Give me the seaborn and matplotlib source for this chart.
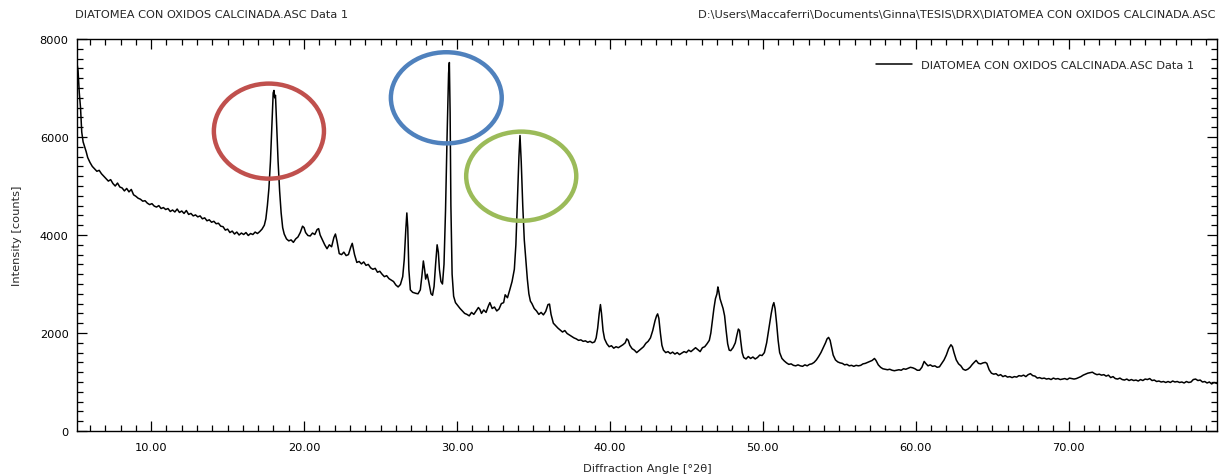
import matplotlib
matplotlib.use("Agg")
import matplotlib.pyplot as plt
from matplotlib.patches import Ellipse
from matplotlib.ticker import MultipleLocator, FormatStrFormatter
import seaborn as sns
import pandas as pd

# XRD pattern: diffraction angle (deg 2-theta) and intensity (counts)
angle = [
    5.15, 5.22, 5.30, 5.38, 5.46, 5.55, 5.65, 5.75, 5.85, 6.0, 6.15, 6.3, 6.45, 6.6, 6.75, 6.9,
    7.05, 7.2, 7.35, 7.5, 7.65, 7.8, 7.95, 8.1, 8.25, 8.4, 8.55, 8.7, 8.85, 9.0, 9.15, 9.3, 9.45,
    9.6, 9.75, 9.9, 10.05, 10.2, 10.35, 10.5, 10.65, 10.8, 10.95, 11.1, 11.25, 11.4, 11.55, 11.7,
    11.85, 12.0, 12.15, 12.3, 12.45, 12.6, 12.75, 12.9, 13.05, 13.2, 13.35, 13.5, 13.65, 13.8,
    13.95, 14.1, 14.25, 14.4, 14.55, 14.7, 14.85, 15.0, 15.15, 15.3, 15.45, 15.6, 15.75, 15.9,
    16.05, 16.2, 16.35, 16.5, 16.65, 16.8, 16.95, 17.1, 17.25, 17.4, 17.5, 17.6, 17.7, 17.8,
    17.9, 17.98, 18.03, 18.08, 18.13, 18.2, 18.3, 18.4, 18.5, 18.6, 18.7, 18.85, 19.0, 19.15,
    19.3, 19.45, 19.6, 19.75, 19.9, 20.0, 20.1, 20.25, 20.4, 20.55, 20.7, 20.85, 20.95, 21.05,
    21.2, 21.35, 21.5, 21.65, 21.8, 21.95, 22.05, 22.15, 22.3, 22.45, 22.6, 22.75, 22.9, 23.05,
    23.15, 23.3, 23.45, 23.6, 23.75, 23.9, 24.05, 24.2, 24.35, 24.5, 24.65, 24.8, 24.95, 25.1,
    25.25, 25.4, 25.55, 25.7, 25.85, 26.0, 26.15, 26.3, 26.45, 26.55, 26.65, 26.72, 26.78, 26.85,
    26.95, 27.1, 27.3, 27.45, 27.6, 27.7, 27.8, 27.88, 27.95, 28.05, 28.15, 28.3, 28.4, 28.5,
    28.6, 28.7, 28.78, 28.85, 28.95, 29.05, 29.15, 29.25, 29.35, 29.45, 29.5, 29.55, 29.6, 29.68,
    29.78, 29.9, 30.05, 30.2, 30.35, 30.5, 30.65, 30.8, 30.95, 31.1, 31.25, 31.4, 31.5, 31.6,
    31.75, 31.9, 32.05, 32.15, 32.3, 32.45, 32.6, 32.75, 32.9, 33.05, 33.15, 33.3, 33.45, 33.6,
    33.75, 33.85, 33.95, 34.05, 34.12, 34.2, 34.3, 34.4, 34.5, 34.6, 34.7, 34.8, 34.9, 35.05,
    35.2, 35.35, 35.5, 35.65, 35.8, 35.95, 36.05, 36.15, 36.3, 36.45, 36.6, 36.75, 36.9, 37.05,
    37.2, 37.35, 37.5, 37.65, 37.8, 37.95, 38.1, 38.25, 38.4, 38.55, 38.7, 38.85, 39.0, 39.1,
    39.2, 39.3, 39.38, 39.45, 39.55, 39.65, 39.8, 39.95, 40.1, 40.25, 40.4, 40.55, 40.7, 40.85,
    41.0, 41.1, 41.2, 41.3, 41.45, 41.6, 41.75, 41.9, 42.05, 42.2, 42.35, 42.5, 42.65, 42.8,
    42.95, 43.05, 43.12, 43.2, 43.3, 43.4, 43.5, 43.65, 43.8, 43.95, 44.1, 44.25, 44.4, 44.55,
    44.7, 44.85, 45.0, 45.15, 45.3, 45.45, 45.6, 45.75, 45.9, 46.05, 46.2, 46.35, 46.5, 46.6,
    46.7, 46.8, 46.9, 47.0, 47.06, 47.12, 47.2, 47.3, 47.4, 47.5, 47.6, 47.7, 47.8, 47.9, 48.05,
    48.2, 48.3, 48.4, 48.48, 48.55, 48.65, 48.75, 48.9, 49.05, 49.2, 49.35, 49.5, 49.65, 49.8,
    49.95, 50.1, 50.25, 50.4, 50.55, 50.65, 50.72, 50.8, 50.9, 51.0, 51.1, 51.25, 51.4, 51.55,
    51.7, 51.85, 52.0, 52.15, 52.3, 52.45, 52.6, 52.75, 52.9, 53.05, 53.2, 53.35, 53.5, 53.65,
    53.8, 53.95, 54.1, 54.2, 54.3, 54.4, 54.5, 54.6, 54.75, 54.9, 55.05, 55.2, 55.35, 55.5,
    55.65, 55.8, 55.95, 56.1, 56.25, 56.4, 56.55, 56.7, 56.85, 57.0, 57.15, 57.3, 57.4, 57.55,
    57.7, 57.85, 58.0, 58.15, 58.3, 58.45, 58.6, 58.75, 58.9, 59.05, 59.2, 59.35, 59.5, 59.65,
    59.8, 59.95, 60.1, 60.25, 60.4, 60.55, 60.65, 60.8, 60.95, 61.1, 61.25, 61.4, 61.55, 61.7,
    61.85, 62.0, 62.15, 62.3, 62.4, 62.5, 62.65, 62.8, 62.95, 63.1, 63.25, 63.4, 63.55, 63.7,
    63.85, 63.95, 64.1, 64.25, 64.4, 64.55, 64.65, 64.8, 64.95, 65.1, 65.25, 65.4, 65.55, 65.7,
    65.85, 66.0, 66.15, 66.3, 66.45, 66.6, 66.75, 66.9, 67.05, 67.2, 67.35, 67.5, 67.65, 67.8,
    67.95, 68.1, 68.25, 68.4, 68.55, 68.7, 68.85, 69.0, 69.15, 69.3, 69.45, 69.6, 69.75, 69.9,
    70.05, 70.2, 70.35, 70.5, 70.65, 70.8, 70.95, 71.1, 71.25, 71.4, 71.55, 71.7, 71.85, 72.0,
    72.15, 72.3, 72.45, 72.6, 72.75, 72.9, 73.05, 73.2, 73.35, 73.5, 73.65, 73.8, 73.95, 74.1,
    74.25, 74.4, 74.55, 74.7, 74.85, 75.0, 75.15, 75.3, 75.45, 75.6, 75.75, 75.9, 76.05, 76.2,
    76.35, 76.5, 76.65, 76.8, 76.95, 77.1, 77.25, 77.4, 77.55, 77.7, 77.85, 78.0, 78.15, 78.3,
    78.45, 78.6, 78.75, 78.9, 79.05, 79.2, 79.35, 79.5, 79.7,
]

counts = [
    7500, 7350, 6900, 6600, 6100, 5900, 5800, 5700, 5580, 5480, 5400, 5350, 5300, 5320, 5250, 5200,
    5150, 5100, 5130, 5050, 5000, 5060, 4980, 4960, 4900, 4950, 4880, 4930, 4820, 4790, 4750, 4730, 4690,
    4700, 4650, 4620, 4640, 4590, 4570, 4600, 4540, 4560, 4520, 4540, 4480, 4510, 4470, 4530,
    4460, 4490, 4440, 4500, 4420, 4440, 4390, 4410, 4370, 4390, 4330, 4350, 4290, 4310,
    4260, 4280, 4230, 4240, 4180, 4170, 4100, 4120, 4050, 4080, 4020, 4060, 4000, 4040,
    4010, 4050, 3990, 4030, 4010, 4060, 4030, 4070, 4120, 4200, 4330, 4600, 4950, 5500,
    6300, 6900, 6950, 6800, 6850, 6300, 5500, 4900, 4450, 4150, 4020, 3920, 3880, 3900,
    3850, 3920, 3960, 4050, 4180, 4150, 4050, 3990, 3980, 4040, 4010, 4110, 4130, 4000,
    3900, 3800, 3720, 3800, 3760, 3950, 4020, 3880, 3620, 3600, 3650, 3580, 3600, 3750,
    3830, 3600, 3440, 3460, 3410, 3450, 3380, 3400, 3330, 3300, 3320, 3240, 3260, 3200,
    3150, 3170, 3110, 3080, 3050, 2980, 2940, 2990, 3150, 3500, 4100, 4450, 4150, 3300,
    2880, 2830, 2810, 2800, 2880, 3150, 3470, 3300, 3100, 3200, 3050, 2800, 2770, 2950,
    3400, 3800, 3650, 3300, 3050, 3000, 3400, 4500, 6000, 7300, 7520, 6500, 4600, 3200,
    2750, 2620, 2560, 2500, 2450, 2400, 2380, 2350, 2420, 2380, 2450, 2520, 2480, 2400,
    2470, 2420, 2550, 2620, 2500, 2530, 2450, 2490, 2600, 2620, 2780, 2720, 2880, 3050,
    3300, 3800, 4700, 5600, 6030, 5500, 4600, 3900, 3500, 3100, 2800, 2650, 2600, 2500,
    2450, 2380, 2420, 2370, 2440, 2580, 2590, 2380, 2200, 2150, 2100, 2060, 2020, 2050,
    1990, 1960, 1930, 1900, 1880, 1850, 1860, 1830, 1840, 1810, 1830, 1800, 1820, 1900,
    2100, 2400, 2580, 2400, 2050, 1880, 1780, 1720, 1740, 1690, 1720, 1700, 1730, 1760,
    1800, 1880, 1850, 1750, 1680, 1650, 1600, 1640, 1680, 1720, 1790, 1830, 1900, 2050,
    2250, 2350, 2390, 2300, 2000, 1750, 1650, 1600, 1620, 1580, 1610, 1570, 1600, 1560,
    1590, 1620, 1600, 1650, 1620, 1660, 1700, 1660, 1620, 1700, 1720, 1780, 1850, 2000,
    2250, 2500, 2700, 2800, 2940, 2850, 2700, 2600, 2500, 2350, 2050, 1780, 1650, 1640, 1700,
    1800, 1950, 2080, 2050, 1850, 1600, 1500, 1470, 1520, 1480, 1510, 1470, 1500, 1550,
    1540, 1600, 1800, 2100, 2400, 2560, 2620, 2500, 2200, 1850, 1600, 1480, 1430, 1390,
    1360, 1370, 1340, 1330, 1350, 1330, 1320, 1350, 1330, 1360, 1370, 1400, 1450, 1520,
    1600, 1700, 1800, 1880, 1910, 1850, 1700, 1550, 1450, 1410, 1390, 1380, 1350, 1360,
    1330, 1340, 1320, 1340, 1330, 1340, 1370, 1380, 1400, 1420, 1440, 1480, 1440, 1350,
    1300, 1270, 1260, 1250, 1260, 1240, 1230, 1240, 1250, 1240, 1270, 1260, 1280, 1300,
    1290, 1270, 1240, 1240, 1300, 1420, 1380, 1330, 1350, 1320, 1330, 1300, 1310, 1380,
    1450, 1550, 1680, 1760, 1720, 1600, 1450, 1370, 1330, 1260, 1240, 1260, 1300, 1360,
    1410, 1440, 1380, 1370, 1390, 1400, 1380, 1250, 1180, 1160, 1170, 1130, 1150, 1110,
    1130, 1100, 1110, 1090, 1110, 1100, 1130, 1120, 1140, 1110, 1150, 1170, 1130, 1120,
    1080, 1090, 1070, 1080, 1060, 1070, 1050, 1080, 1060, 1070, 1050, 1060, 1070, 1050,
    1080, 1070, 1060, 1070, 1090, 1110, 1140, 1160, 1180, 1190, 1200, 1170, 1150, 1160,
    1140, 1150, 1120, 1140, 1090, 1110, 1070, 1060, 1080, 1050, 1040, 1060, 1030, 1050,
    1030, 1040, 1020, 1050, 1030, 1060, 1050, 1070, 1030, 1040, 1010, 1020, 1000, 1010,
    990, 1010, 990, 1020, 1000, 1010, 990, 1000, 980, 1010, 990, 1000, 1050, 1060,
    1030, 1040, 1000, 1010, 980, 1000, 960, 990, 970,
]

# Highlighted reflections: ellipse centres (angle, counts), widths (deg), heights (counts)
mark_angle = [17.7, 29.3, 34.2]
mark_counts = [6120, 6800, 5200]
mark_width = [7.2, 7.25, 7.2]
mark_height = [1940, 1860, 1820]
mark_color = ["#C0504D", "#4F81BD", "#9BBB59"]

series_name = "DIATOMEA CON OXIDOS CALCINADA.ASC Data 1"
file_path = r"D:\Users\Maccaferri\Documents\Ginna\TESIS\DRX\DIATOMEA CON OXIDOS CALCINADA.ASC"

sns.set_style("white")
plt.rcParams["font.family"] = ["DejaVu Sans"]
fs = 8.2

df = pd.DataFrame({"angle": angle, "counts": counts})

fig = plt.figure(figsize=(12.28, 4.77), dpi=100)
ax = fig.add_axes([77 / 1228, 45 / 477, 1140 / 1228, 392 / 477])

sns.lineplot(data=df, x="angle", y="counts", ax=ax, color="black", lw=1.1,
             sort=False, estimator=None, label=series_name)

for cx, cy, w, h, c in zip(mark_angle, mark_counts, mark_width, mark_height, mark_color):
    ax.add_patch(Ellipse((cx, cy), w, h, fill=False, edgecolor=c, lw=3.2, zorder=5))

ax.set_xlim(5.15, 79.7)
ax.set_ylim(0, 8000)
ax.xaxis.set_major_locator(MultipleLocator(10))
ax.xaxis.set_minor_locator(MultipleLocator(1))
ax.xaxis.set_major_formatter(FormatStrFormatter("%.2f"))
ax.yaxis.set_major_locator(MultipleLocator(2000))
ax.yaxis.set_minor_locator(MultipleLocator(200))
ax.tick_params(which="both", direction="in", top=True, right=True, bottom=True, left=True,
               colors="black", labelsize=fs, width=0.9)
ax.tick_params(which="major", length=7)
ax.tick_params(axis="x", which="major", pad=8)
ax.tick_params(axis="y", which="major", pad=6)
ax.tick_params(which="minor", length=4)
for s in ax.spines.values():
    s.set_color("black")
    s.set_linewidth(1.0)

ax.set_xlabel("Diffraction Angle [°2θ]", fontsize=fs, labelpad=8)
ax.set_ylabel("Intensity [counts]", fontsize=fs, labelpad=13)

leg = ax.legend(loc="upper right", frameon=False, fontsize=fs, handlelength=3.2,
                borderaxespad=0.9, bbox_to_anchor=(0.993, 0.985))

fig.text(75 / 1228, 1 - 15 / 477, series_name, ha="left", va="center", fontsize=fs)
fig.text(1216 / 1228, 1 - 15 / 477, file_path, ha="right", va="center", fontsize=fs)

fig.savefig("out.png", dpi=100, facecolor="white")
